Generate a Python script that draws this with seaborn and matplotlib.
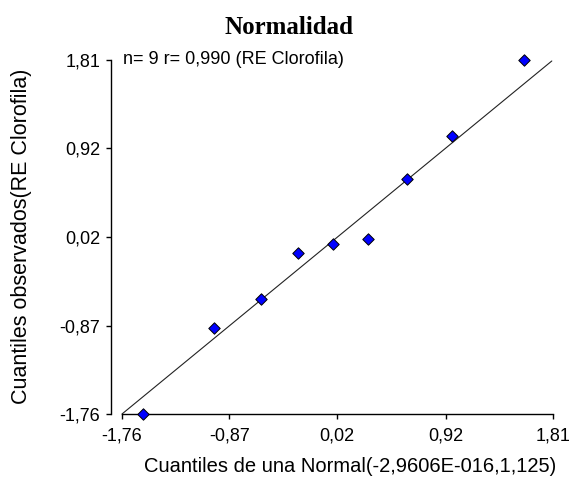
import matplotlib
matplotlib.use("Agg")
import matplotlib.pyplot as plt
import seaborn as sns
import pandas as pd

# Normal Q-Q data for RE Clorofila (n = 9)
theoretical_q = [-1.59, -1.00, -0.61, -0.30, -0.01, 0.28, 0.60, 0.97, 1.57]
observed_q = [-1.76, -0.89, -0.60, -0.14, -0.05, 0.00, 0.61, 1.04, 1.81]
ref_line = [-1.76, 1.80]
tick_vals = [-1.76, -0.87, 0.02, 0.92, 1.81]
tick_labels = ["-1,76", "-0,87", "0,02", "0,92", "1,81"]

sns.set_style("ticks")
plt.rcParams["font.family"] = ["Liberation Sans", "DejaVu Sans"]

df = pd.DataFrame({"teorico": theoretical_q, "observado": observed_q})
line_df = pd.DataFrame({"x": ref_line, "y": ref_line})

W, H = 578, 484
fig = plt.figure(figsize=(W / 100, H / 100), dpi=100)
ax = fig.add_axes([122 / W, (H - 414) / H, (553 - 122) / W, (414 - 60) / H])

sns.lineplot(data=line_df, x="x", y="y", ax=ax, color="#222222",
             linewidth=0.8, clip_on=False)
sns.scatterplot(data=df, x="teorico", y="observado", ax=ax, marker="D",
                s=34, color="#0000ff", edgecolor="black", linewidth=0.7,
                clip_on=False, zorder=3)

ax.set_xlim(-1.76, 1.81)
ax.set_ylim(-1.76, 1.81)
ax.set_xticks(tick_vals)
ax.set_xticklabels(tick_labels)
ax.set_yticks(tick_vals)
ax.set_yticklabels(tick_labels)
ax.set_xlabel("")
ax.set_ylabel("")

for side in ("top", "right"):
    ax.spines[side].set_visible(False)
ax.spines["left"].set_position(("outward", 8))
ax.spines["left"].set_bounds(-1.76, 1.81)
ax.spines["bottom"].set_bounds(-1.76, 1.81)
for side in ("left", "bottom"):
    ax.spines[side].set_linewidth(1.0)
    ax.spines[side].set_color("black")

ax.tick_params(axis="both", length=3.6, width=1.0, color="black",
               labelsize=13, labelcolor="black")
ax.tick_params(axis="x", pad=6)
ax.tick_params(axis="y", pad=4)

ax.text(-1.75, 1.81, "n= 9 r= 0,990 (RE Clorofila)", fontsize=13,
        color="black", va="center", ha="left")

fig.text(0.5, (H - 27) / H, "Normalidad", family="Liberation Serif",
         fontweight="bold", fontsize=18, ha="center", va="center",
         color="black")
fig.text(350 / W, (H - 467) / H, "Cuantiles de una Normal(-2,9606E-016,1,125)",
         fontsize=14.5, ha="center", va="center", color="black")
fig.text(22 / W, (H - 236) / H, "Cuantiles observados(RE Clorofila)",
         fontsize=15.5, ha="center", va="center", rotation=90, color="black")

fig.savefig("out.png", dpi=100)
